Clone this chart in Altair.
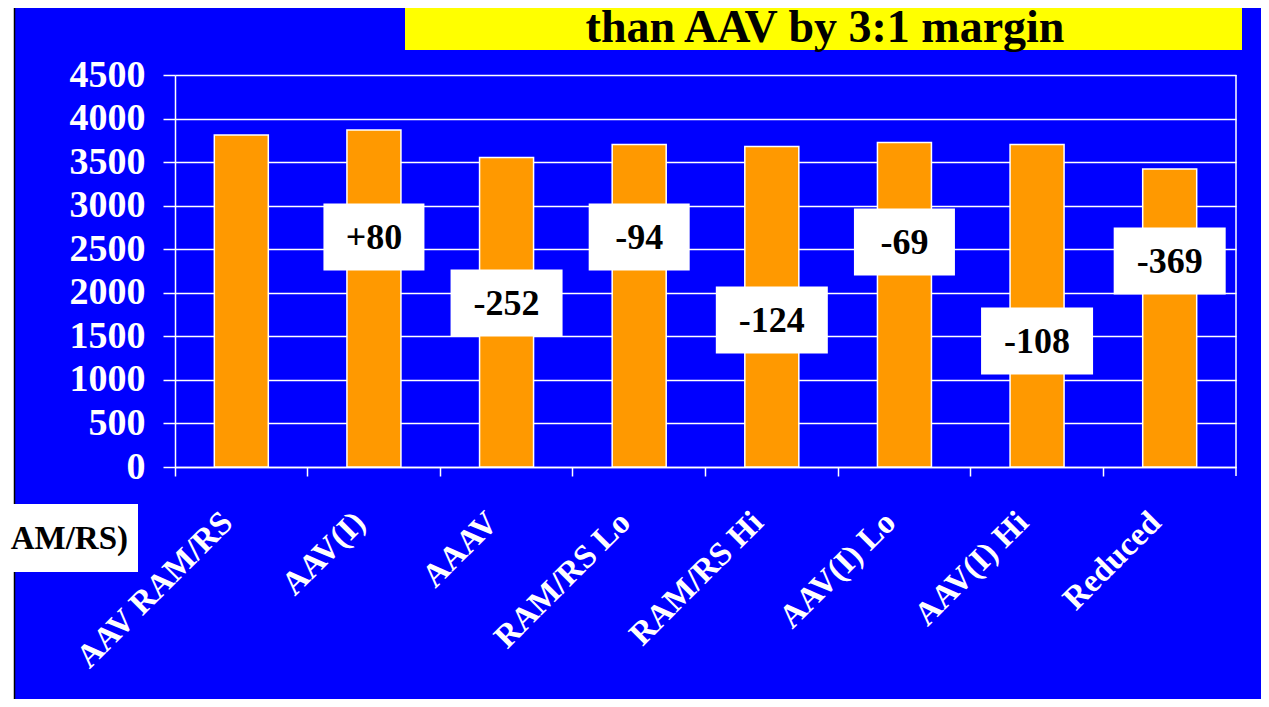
import altair as alt
import pandas as pd

# ---- data ----
categories = ["AAV RAM/RS", "AAV(I)", "AAAV", "RAM/RS Lo", "RAM/RS Hi",
              "AAV(I) Lo", "AAV(I) Hi", "Reduced"]
values = [3811, 3869, 3553, 3703, 3678, 3726, 3702, 3420]
diff_labels = ["+80", "-252", "-94", "-124", "-69", "-108", "-369"]
diff_categories = categories[1:]
diff_label_y = [2640, 1883, 2640, 1688, 2583, 1446, 2365]
y_ticks = [0, 500, 1000, 1500, 2000, 2500, 3000, 3500, 4000, 4500]
title_text = "than AAV by 3:1 margin"
side_text = "AM/RS)"

FONT = "Liberation Serif"
BLUE = "#0000FF"
ORANGE = "#FF9900"

W, H = 1061, 392

bars_df = pd.DataFrame({"cat": categories, "val": values})

box_h = 67
shapes, sizes = [], []
for lab in diff_labels:
    w = 101 if len(lab) <= 3 else 112
    r = box_h / w
    shapes.append(f"M-1,-{r:.4f}L1,-{r:.4f}L1,{r:.4f}L-1,{r:.4f}Z")
    sizes.append(w * w)
labels_df = pd.DataFrame({"cat": diff_categories, "lab": diff_labels,
                          "ly": diff_label_y, "shape": shapes, "sz": sizes})

one = alt.Data(values=[{"a": 1}])

x_scale = alt.Scale(domain=categories, paddingInner=0, paddingOuter=0)
y_scale = alt.Scale(domain=[0, 4500], nice=False, zero=True)

x_axis = alt.Axis(title=None, labelAngle=315, labelAlign="right", labelBaseline="middle",
                  labelFont=FONT, labelFontWeight="bold", labelFontSize=33,
                  labelColor="white", labelPadding=41, labelOffset=-14,
                  bandPosition=0, tickColor="white", tickSize=9, tickWidth=1.5,
                  domainColor="white", domainWidth=1.5, grid=False, labelLimit=0)
y_axis = alt.Axis(title=None, values=y_ticks, format="d", labelFont=FONT,
                  labelFontWeight="bold", labelFontSize=38, labelColor="white",
                  labelPadding=18, tickColor="white", tickSize=12, tickWidth=1.5,
                  domainColor="white", domainWidth=1.5, grid=True, gridColor="white",
                  gridWidth=1.5, gridOpacity=1)

# decorations (slide frame)
white_strip = alt.Chart(one).mark_rect(color="white").encode(
    x=alt.value(-167), x2=alt.value(-161), y=alt.value(-67), y2=alt.value(H + 240))
black_edge = alt.Chart(one).mark_rule(color="black", strokeWidth=1.5).encode(
    x=alt.value(-160.5), y=alt.value(-67), y2=alt.value(H + 240))
yellow_box = alt.Chart(one).mark_rect(color="#FFFF00").encode(
    x=alt.value(230), x2=alt.value(1067), y=alt.value(-67), y2=alt.value(-25))
title = alt.Chart(one).mark_text(text=title_text, font=FONT, fontWeight="bold",
                                 fontSize=46, color="black", align="center",
                                 baseline="alphabetic").encode(
    x=alt.value(650), y=alt.value(-33))
side_box = alt.Chart(one).mark_rect(color="white").encode(
    x=alt.value(-175), x2=alt.value(-37), y=alt.value(429), y2=alt.value(497))
side_label = alt.Chart(one).mark_text(text=side_text, font=FONT, fontWeight="bold",
                                      fontSize=33, color="black", align="right",
                                      baseline="middle").encode(
    x=alt.value(-47), y=alt.value(464))
right_edge = alt.Chart(one).mark_rule(color="white", strokeWidth=1.5).encode(
    x=alt.value(W), y=alt.value(0), y2=alt.value(H + 9))

bars = alt.Chart(bars_df).mark_bar(width=54, color=ORANGE, stroke="white",
                                   strokeWidth=1.5).encode(
    x=alt.X("cat:N", sort=categories, scale=x_scale, axis=x_axis),
    y=alt.Y("val:Q", scale=y_scale, axis=y_axis))

boxes = alt.Chart(labels_df).mark_point(filled=True, color="white", opacity=1,
                                        strokeWidth=0).encode(
    x=alt.X("cat:N", sort=categories, scale=x_scale, axis=x_axis),
    y=alt.Y("ly:Q", scale=y_scale, axis=y_axis),
    shape=alt.Shape("shape:N", scale=None),
    size=alt.Size("sz:Q", scale=None))

box_text = alt.Chart(labels_df).mark_text(font=FONT, fontWeight="bold", fontSize=36,
                                          color="black", align="center",
                                          baseline="middle", dy=1).encode(
    x=alt.X("cat:N", sort=categories, scale=x_scale, axis=x_axis),
    y=alt.Y("ly:Q", scale=y_scale, axis=y_axis),
    text="lab:N")

chart = alt.layer(white_strip, black_edge, yellow_box, title, side_box, side_label,
                  bars, right_edge, boxes, box_text).properties(
    width=W, height=H,
    autosize=alt.AutoSizeParams(type="none"),
    padding={"left": 167, "top": 67, "right": 25, "bottom": 232},
    background=BLUE,
).configure_view(strokeWidth=0)

chart.save("out.html", embed_options={"renderer": "svg", "actions": False})
